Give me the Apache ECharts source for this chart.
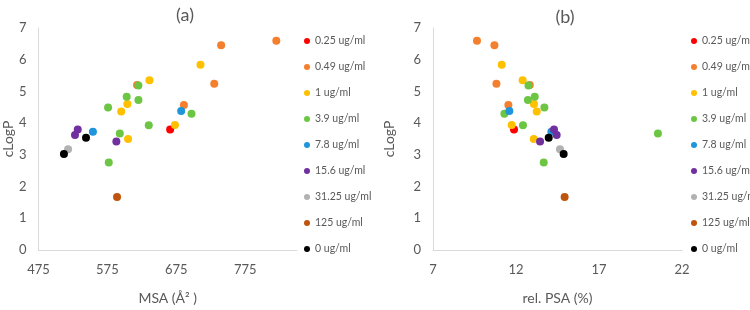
<!DOCTYPE html>
<html>
<head>
<meta charset="utf-8">
<script src="https://cdn.jsdelivr.net/npm/echarts@6/dist/echarts.min.js"></script>
<style>
  html, body { margin: 0; padding: 0; background: #fff; }
  #chart { width: 750px; height: 310px; }
</style>
</head>
<body>
<div id="chart"></div>
<script>
// concentration groups (legend order)
var groups = ['0.25 ug/ml', '0.49 ug/ml', '1 ug/ml', '3.9 ug/ml', '7.8 ug/ml', '15.6 ug/ml', '31.25 ug/ml', '125 ug/ml', '0 ug/ml'];
var groupColors = ['#ff0000', '#f47f2e', '#ffc000', '#6cc644', '#1f96dc', '#7030a0', '#b2b2b2', '#bf540f', '#000000'];

// molecular surface area (Å²) per compound, by group
var msaByGroup = [
  [666],
  [820, 740, 730, 618, 686],
  [710, 636, 604, 595, 673, 605],
  [620, 603, 620, 576, 697, 635, 593, 577],
  [682, 554],
  [532, 528, 588],
  [518],
  [589],
  [544, 512]
];
// relative polar surface area (%) per compound, by group
var psaByGroup = [
  [11.88],
  [9.65, 10.70, 10.82, 12.83, 11.54],
  [11.14, 12.40, 13.08, 13.25, 11.74, 13.07],
  [12.75, 13.13, 12.72, 13.71, 11.30, 12.42, 20.55, 13.67],
  [11.60, 14.13],
  [14.29, 14.45, 13.45],
  [14.65],
  [14.93],
  [13.97, 14.87]
];
// cLogP per compound, by group
var logpByGroup = [
  [3.80],
  [6.60, 6.46, 5.24, 5.20, 4.57],
  [5.84, 5.35, 4.60, 4.37, 3.94, 3.50],
  [5.19, 4.83, 4.73, 4.49, 4.30, 3.93, 3.67, 2.76],
  [4.38, 3.73],
  [3.80, 3.63, 3.42],
  [3.18],
  [1.67],
  [3.54, 3.03]
];

var chart = echarts.init(document.getElementById('chart'));

var textColor = '#595959';
var lineColor = '#d9d9d9';
var fontFamily = 'Lato, "Noto Sans", sans-serif';

function pairs(xs, ys) {
  return xs.map(function (x, i) { return [x, ys[i]]; });
}

var series = [];
// 左图 MSA vs cLogP
groups.forEach(function (name, g) {
  series.push({
    name: name,
    type: 'scatter',
    xAxisIndex: 0,
    yAxisIndex: 0,
    symbolSize: 8,
    itemStyle: { color: groupColors[g], opacity: 1 },
    data: pairs(msaByGroup[g], logpByGroup[g])
  });
});
// 右图 rel. PSA vs cLogP
groups.forEach(function (name, g) {
  series.push({
    name: name,
    type: 'scatter',
    xAxisIndex: 1,
    yAxisIndex: 1,
    symbolSize: 8,
    itemStyle: { color: groupColors[g], opacity: 1 },
    data: pairs(psaByGroup[g], logpByGroup[g])
  });
});

function legendAt(left) {
  return {
    orient: 'vertical',
    left: left,
    top: 30,
    icon: 'circle',
    itemWidth: 6,
    itemHeight: 6,
    itemGap: 14,
    selectedMode: false,
    data: groups,
    textStyle: { color: textColor, fontSize: 10.5, lineHeight: 12, fontFamily: fontFamily }
  };
}

function valueAxis(opts) {
  return Object.assign({
    type: 'value',
    nameLocation: 'middle',
    nameTextStyle: { color: textColor, fontSize: 14, fontFamily: fontFamily },
    axisLine: { show: true, lineStyle: { color: lineColor, width: 1 } },
    axisTick: { show: false },
    splitLine: { show: false },
    axisLabel: { color: textColor, fontSize: 13, fontFamily: fontFamily }
  }, opts);
}

var option = {
  backgroundColor: '#fff',
  animation: false,
  title: [
    { text: '(a)', left: 180, top: 1, textAlign: 'center',
      textStyle: { color: textColor, fontSize: 18, fontWeight: 'normal', fontFamily: fontFamily } },
    { text: '(b)', left: 560, top: 3, textAlign: 'center',
      textStyle: { color: textColor, fontSize: 18, fontWeight: 'normal', fontFamily: fontFamily } }
  ],
  legend: [legendAt(299), legendAt(686)],
  grid: [
    { left: 37, top: 28, width: 260, height: 227 },
    { left: 433, top: 28, width: 249, height: 227 }
  ],
  xAxis: [
    valueAxis({ gridIndex: 0, name: 'MSA (Å² )', nameGap: 41, min: 475, max: 850, interval: 100,
      axisLabel: { color: textColor, fontSize: 13, fontFamily: fontFamily, margin: 13, showMaxLabel: false } }),
    valueAxis({ gridIndex: 1, name: 'rel. PSA (%)', nameGap: 41, min: 7, max: 22, interval: 5,
      axisLabel: { color: textColor, fontSize: 13, fontFamily: fontFamily, margin: 13 } })
  ],
  yAxis: [
    valueAxis({ gridIndex: 0, name: 'cLogP', nameGap: 22, min: 0, max: 7, interval: 1,
      axisLabel: { color: textColor, fontSize: 13, fontFamily: fontFamily, margin: 12 } }),
    valueAxis({ gridIndex: 1, name: 'cLogP', nameGap: 37, min: 0, max: 7, interval: 1,
      axisLabel: { color: textColor, fontSize: 13, fontFamily: fontFamily, margin: 12 } })
  ],
  series: series
};

chart.setOption(option);
</script>
</body>
</html>
